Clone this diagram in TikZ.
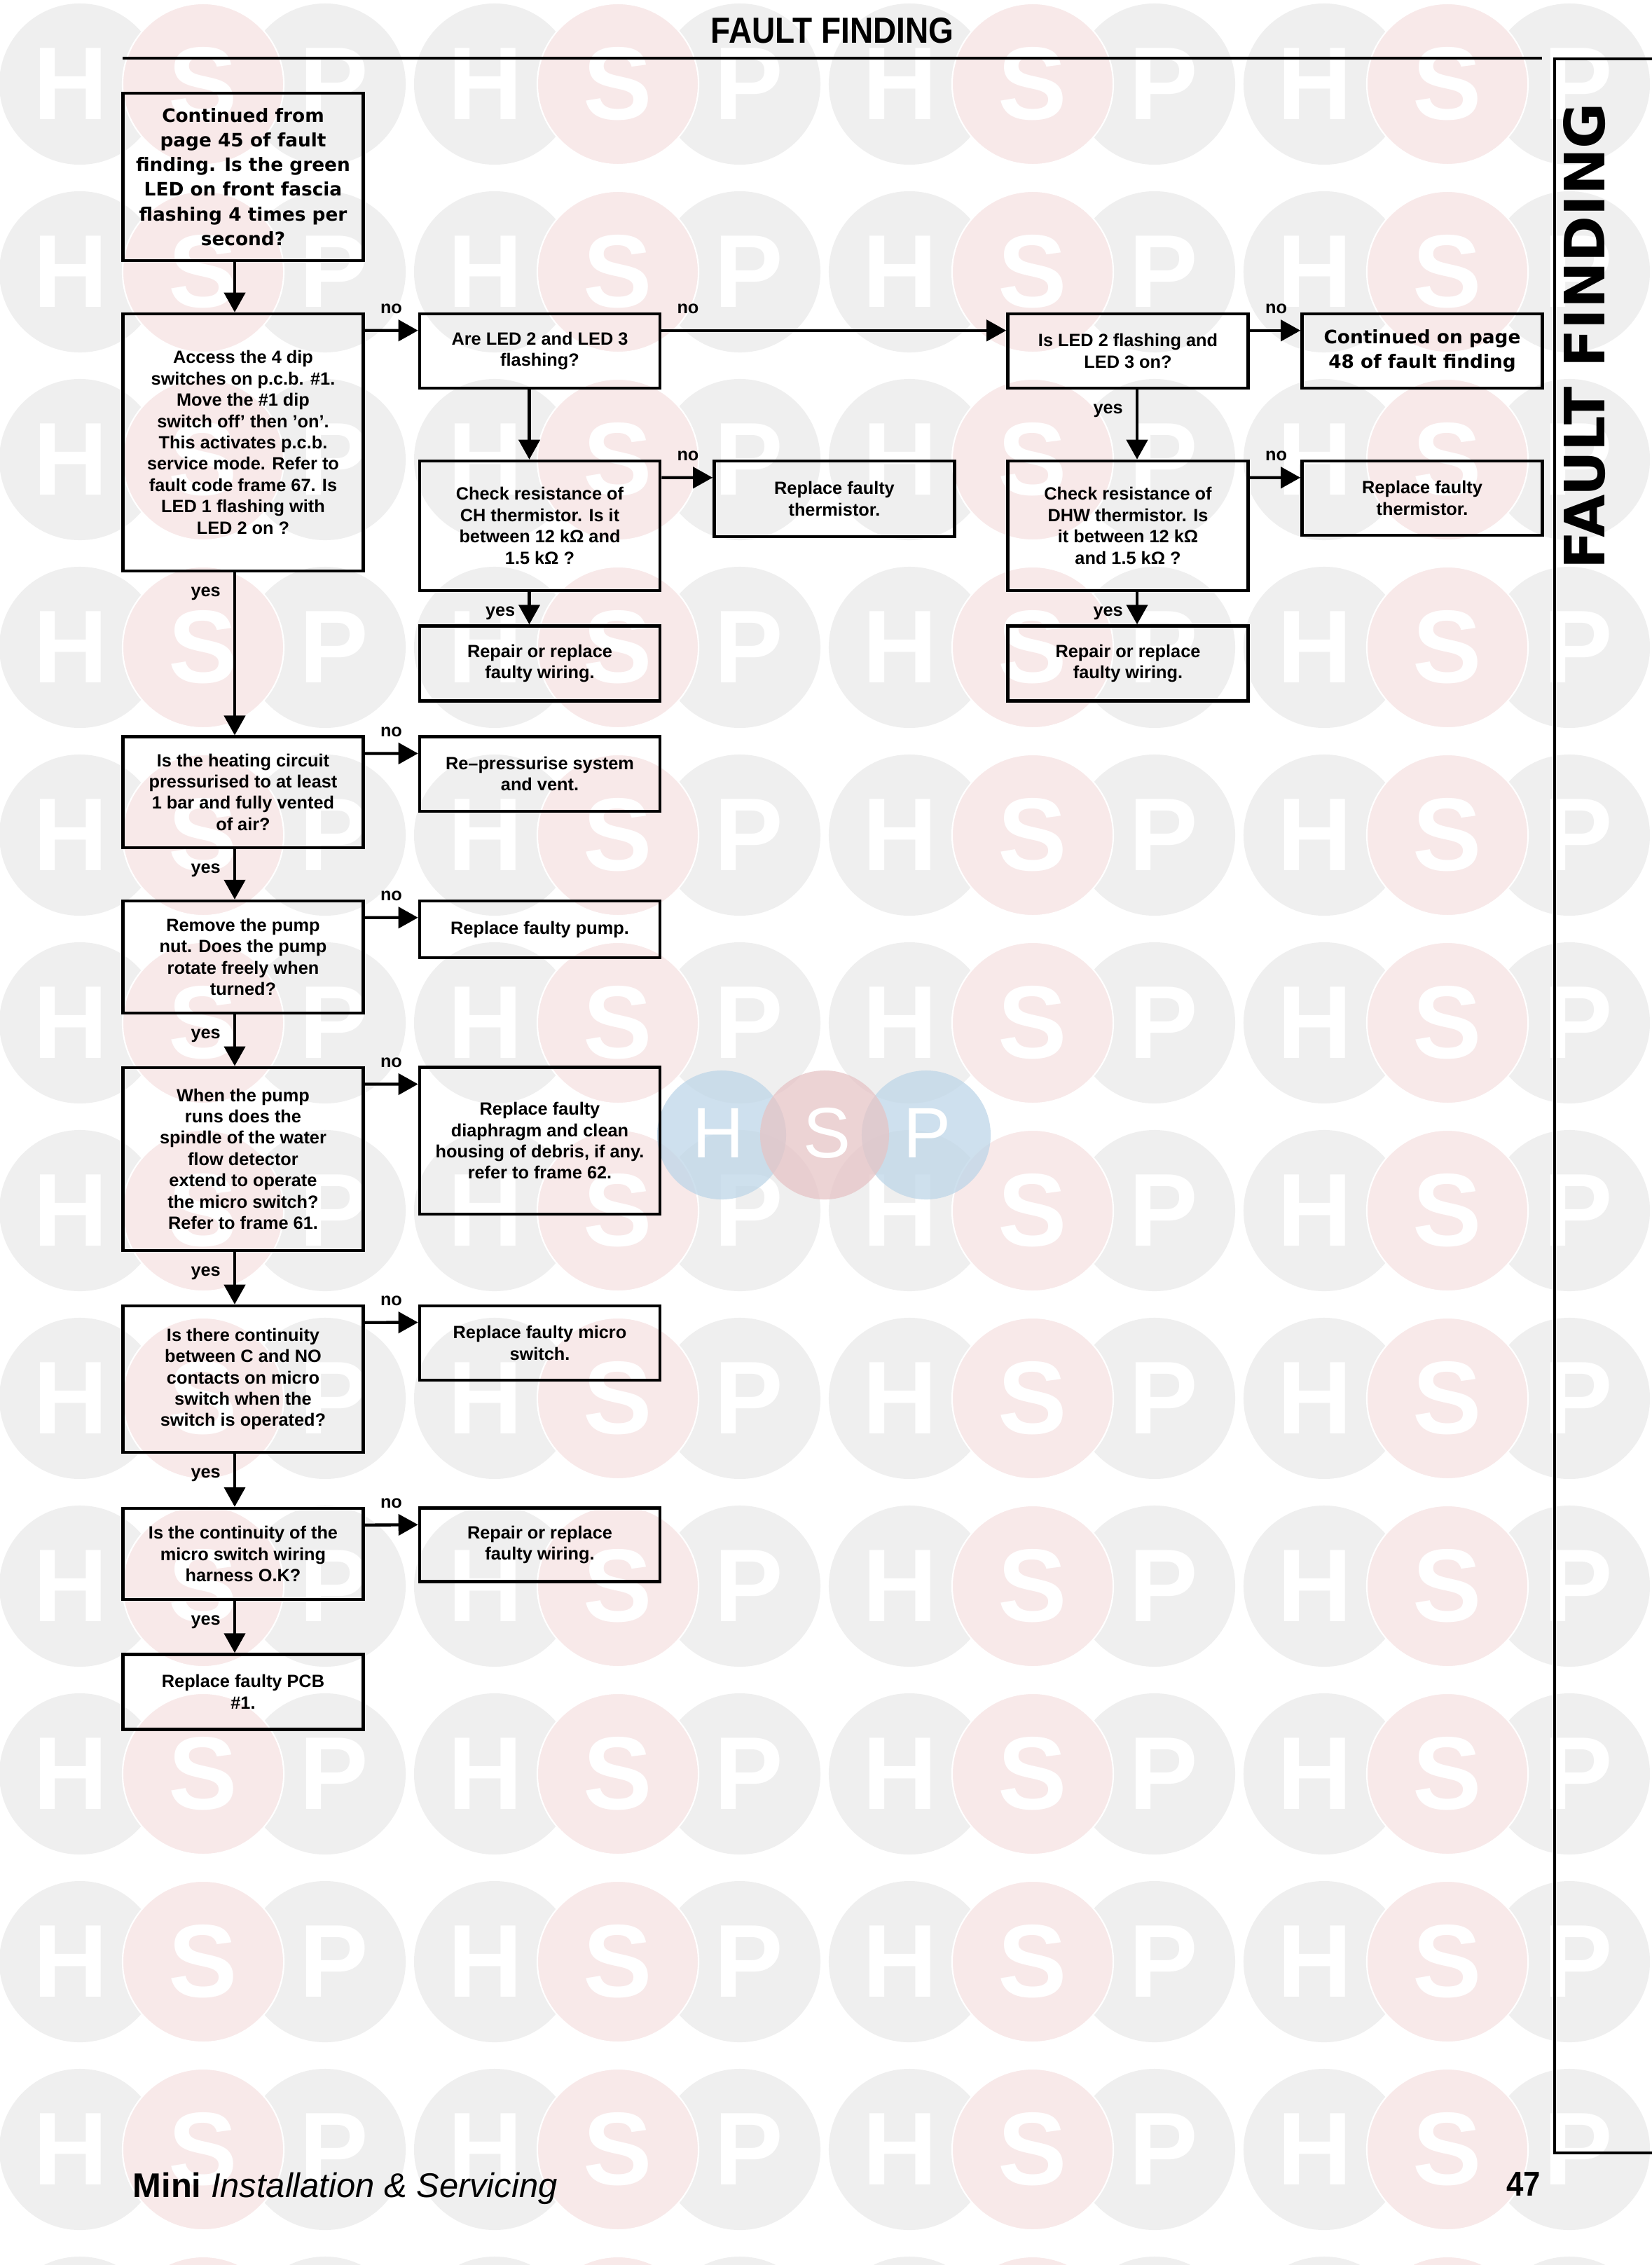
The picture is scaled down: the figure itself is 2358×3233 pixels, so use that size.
\documentclass[tikz,border=0pt]{standalone}
\usepackage{fontspec}
\setmainfont{Liberation Sans}
\newfontfamily\boxfont{Liberation Sans}
\newfontfamily\heavyfont{DejaVu Sans}
\newfontfamily\narrowfont{Liberation Sans}[FakeStretch=0.89]
\usetikzlibrary{arrows.meta,calc}
\definecolor{wmgrey}{RGB}{239,239,239}
\definecolor{wmpink}{RGB}{248,233,233}
\definecolor{logoblue}{RGB}{190,214,232}
\definecolor{logopink}{RGB}{230,196,198}

\begin{document}
\begin{tikzpicture}[x=0.01cm, y=-0.01cm, >={Triangle[length=0.28cm,width=0.3cm]},
  box/.style={draw, line width=1.25pt, minimum width=3.43cm, inner sep=0pt, align=center,
    font=\boxfont\bfseries\fontsize{7.2}{8.65}\selectfont},
  heavy/.style={box, font=\heavyfont\bfseries\fontsize{7.5}{10}\selectfont},
  flow/.style={->, line width=1.25pt},
  nolbl/.style={anchor=south west, inner sep=0pt, xshift=0.2cm, yshift=0.22cm,
    font=\boxfont\bfseries\fontsize{7.2}{8.65}\selectfont},
  yeslbl/.style={anchor=east, inner sep=0pt, xshift=-0.18cm, yshift=-0.3cm,
    font=\boxfont\bfseries\fontsize{7.2}{8.65}\selectfont},
  wmletter/.style={white, inner sep=0pt, font=\bfseries\fontsize{42}{42}\selectfont},
  logoletter/.style={white, inner sep=0pt, font=\fontsize{29}{29}\selectfont},
  rule/.style={line width=1pt}]
  \useasboundingbox (0,0) rectangle (2358,3233);

  % watermark
  \foreach \g in {0,...,3}
    \foreach \r in {0,...,12} {
      \fill[wmgrey] (114+592*\g,120+268*\r) circle[radius=1.15cm];
      \fill[wmgrey] (464+592*\g,120+268*\r) circle[radius=1.15cm];
    }
  \foreach \g in {0,...,3}
    \foreach \r in {0,...,12}
      \filldraw[fill=wmpink, draw=white, line width=0.6pt] (290+592*\g,120+268*\r) circle[radius=1.15cm];
  \foreach \g in {0,...,3}
    \foreach \r in {0,...,11} {
      \node[wmletter] (wmh-\g-\r) at (101+592*\g,120+268*\r) {H};
      \node[wmletter] (wms-\g-\r) at (290+592*\g,120+268*\r) {S};
      \node[wmletter] (wmp-\g-\r) at (477+592*\g,120+268*\r) {P};
    }
  \fill[logoblue, opacity=0.75] (1030,1620) circle[radius=0.92cm];
  \fill[logoblue, opacity=0.75] (1322,1620) circle[radius=0.92cm];
  \fill[logopink, opacity=0.75] (1177,1620) circle[radius=0.92cm];
  \node[logoletter] (logoh) at (1025,1617) {H};
  \node[logoletter] (logos) at (1180,1617) {S};
  \node[logoletter] (logop) at (1323,1617) {P};

  % page frame
  \node[inner sep=0pt, font=\narrowfont\bfseries\fontsize{14.7}{16}\selectfont] (title) at (1188,43.5) {FAULT FINDING};
  \draw[rule] (175,83) -- (2201,83);
  \draw[rule] (2358,84) -- (2219,84) -- (2219,3073) -- (2358,3073);
  \node[rotate=90, inner sep=0pt, font=\heavyfont\bfseries\fontsize{22.6}{24}\selectfont] (sidetitle) at (2262,480) {FAULT FINDING};
  \node[anchor=base west, inner sep=0pt, font=\fontsize{13.9}{16}\selectfont] (footer) at (189,3136)
    {\textbf{Mini} \textit{Installation \& Servicing}};
  \node[anchor=base east, inner sep=0pt, font=\narrowfont\bfseries\fontsize{14}{16}\selectfont] (pagenum) at (2200,3134) {47};

  % boxes
  \node[heavy, minimum height=2.39cm] (start) at (347,252.5)
    {Continued from\\page 45 of fault\\finding. Is the green\\LED on front fascia\\flashing 4 times per\\second?};
  \node[box, minimum height=3.67cm] (access) at (347,631.5)
    {Access the 4 dip\\switches on p.c.b. \#1.\\Move the \#1 dip\\switch off’ then ’on’.\\This activates p.c.b.\\service mode. Refer to\\fault code frame 67. Is\\LED 1 flashing with\\LED 2 on ?};
  \node[box, minimum height=1.06cm] (areled) at (770.5,501) {Are LED 2 and LED 3\\flashing?};
  \node[box, minimum height=1.06cm] (led2) at (1610,501) {Is LED 2 flashing and\\LED 3 on?};
  \node[heavy, minimum height=1.06cm] (cont) at (2030,501) {Continued on page\\48 of fault finding};
  \node[box, minimum height=1.85cm] (ch) at (770.5,750.5)
    {Check resistance of\\CH thermistor. Is it\\between 12 kΩ and\\1.5 kΩ ?};
  \node[box, minimum height=1.08cm] (therml) at (1191,712) {Replace faulty\\thermistor.};
  \node[box, minimum height=1.85cm] (dhw) at (1610,750.5)
    {Check resistance of\\DHW thermistor. Is\\it between 12 kΩ\\and 1.5 kΩ ?};
  \node[box, minimum height=1.06cm] (thermr) at (2030,711) {Replace faulty\\thermistor.};
  \node[box, minimum height=1.07cm] (repairl) at (770.5,947) {Repair or replace\\faulty wiring.};
  \node[box, minimum height=1.07cm] (repairr) at (1610,947) {Repair or replace\\faulty wiring.};

  \node[box, minimum height=1.58cm] (heating) at (347,1130.7)
    {Is the heating circuit\\pressurised to at least\\1 bar and fully vented\\of air?};
  \node[box, minimum height=1.06cm] (repress) at (770.5,1104.7) {Re–pressurise system\\and vent.};
  \node[box, minimum height=1.6cm] (pumpnut) at (347,1366)
    {Remove the pump\\nut. Does the pump\\rotate freely when\\turned?};
  \node[box, minimum height=0.81cm] (pump) at (770.5,1326.5) {Replace faulty pump.};
  \node[box, minimum height=2.61cm] (whenpump) at (347,1654.3)
    {When the pump\\runs does the\\spindle of the water\\flow detector\\extend to operate\\the micro switch?\\Refer to frame 61.};
  \node[box, minimum height=2.09cm] (diaphragm) at (770.5,1628.2)
    {Replace faulty\\diaphragm and clean\\housing of debris, if any.\\refer to frame 62.};
  \node[box, minimum height=2.09cm] (contin) at (347,1968.5)
    {Is there continuity\\between C and NO\\contacts on micro\\switch when the\\switch is operated?};
  \node[box, minimum height=1.06cm] (micro) at (770.5,1916.8) {Replace faulty micro\\switch.};
  \node[box, minimum height=1.3cm] (harness) at (347,2218)
    {Is the continuity of the\\micro switch wiring\\harness O.K?};
  \node[box, minimum height=1.05cm] (repair3) at (770.5,2205) {Repair or replace\\faulty wiring.};
  \node[box, minimum height=1.07cm] (pcb) at (347,2415) {Replace faulty PCB\\\#1.};

  % yes branches
  \draw[flow] ($(start.south)+(-12,0)$) -- ($(access.north)+(-12,0)$);
  \draw[flow] ($(access.south)+(-12,0)$) node[yeslbl] {yes} -- ($(heating.north)+(-12,0)$);
  \draw[flow] ($(heating.south)+(-12,0)$) node[yeslbl] {yes} -- ($(pumpnut.north)+(-12,0)$);
  \draw[flow] ($(pumpnut.south)+(-12,0)$) node[yeslbl] {yes} -- ($(whenpump.north)+(-12,0)$);
  \draw[flow] ($(whenpump.south)+(-12,0)$) node[yeslbl] {yes} -- ($(contin.north)+(-12,0)$);
  \draw[flow] ($(contin.south)+(-12,0)$) node[yeslbl] {yes} -- ($(harness.north)+(-12,0)$);
  \draw[flow] ($(harness.south)+(-12,0)$) node[yeslbl] {yes} -- ($(pcb.north)+(-12,0)$);
  \draw[flow] ($(areled.south)+(-15,0)$) -- ($(ch.north)+(-15,0)$);
  \draw[flow] ($(ch.south)+(-15,0)$) node[yeslbl] {yes} -- ($(repairl.north)+(-15,0)$);
  \draw[flow] ($(led2.south)+(13,0)$) node[yeslbl] {yes} -- ($(dhw.north)+(13,0)$);
  \draw[flow] ($(dhw.south)+(13,0)$) node[yeslbl] {yes} -- ($(repairr.north)+(13,0)$);

  % no branches
  \draw[flow] ($(access.north east)+(0,26)$) node[nolbl] {no} -- ($(areled.north west)+(0,26)$);
  \draw[flow] ($(areled.north east)+(0,26)$) node[nolbl] {no} -- ($(led2.north west)+(0,26)$);
  \draw[flow] ($(led2.north east)+(0,26)$) node[nolbl] {no} -- ($(cont.north west)+(0,26)$);
  \draw[flow] ($(ch.north east)+(0,26)$) node[nolbl] {no} -- ($(therml.north west)+(0,26)$);
  \draw[flow] ($(dhw.north east)+(0,26)$) node[nolbl] {no} -- ($(thermr.north west)+(0,26)$);
  \draw[flow] ($(heating.north east)+(0,26)$) node[nolbl] {no} -- ($(repress.north west)+(0,26)$);
  \draw[flow] ($(pumpnut.north east)+(0,26)$) node[nolbl] {no} -- ($(pump.north west)+(0,26)$);
  \draw[flow] ($(whenpump.north east)+(0,26)$) node[nolbl] {no} -- ($(diaphragm.north west)+(0,26)$);
  \draw[flow] ($(contin.north east)+(0,26)$) node[nolbl] {no} -- ($(micro.north west)+(0,26)$);
  \draw[flow] ($(harness.north east)+(0,26)$) node[nolbl] {no} -- ($(repair3.north west)+(0,26)$);
\end{tikzpicture}
\end{document}
